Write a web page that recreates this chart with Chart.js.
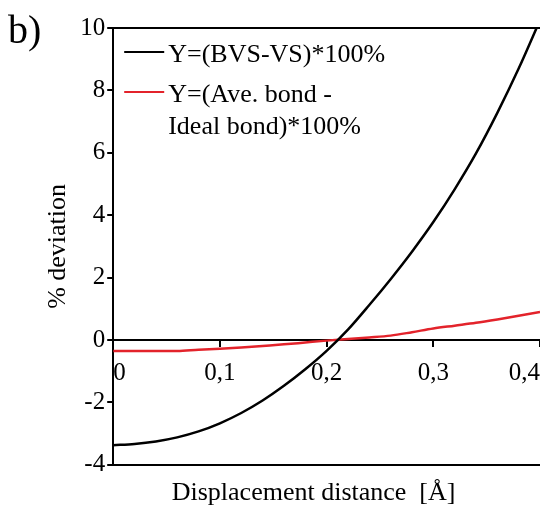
<!DOCTYPE html>
<html>
<head>
<meta charset="utf-8">
<script src="https://cdn.jsdelivr.net/npm/chart.js@4/dist/chart.umd.min.js"></script>
<style>
  html, body { margin: 0; padding: 0; background: #fff; }
  #wrap { width: 540px; height: 509px; }
</style>
</head>
<body>
<div id="wrap"><canvas id="chart"></canvas></div>
<script>
const displacement = [0, 0.02, 0.04, 0.06, 0.08, 0.1, 0.12, 0.14, 0.16, 0.18, 0.2,
  0.22, 0.24, 0.26, 0.28, 0.3, 0.32, 0.34, 0.36, 0.38, 0.4];
const bvsDeviation = [-3.37, -3.33, -3.25, -3.12, -2.93, -2.67, -2.34, -1.94, -1.47, -0.94, -0.35,
  0.33, 1.12, 1.95, 2.83, 3.78, 4.83, 5.98, 7.28, 8.7, 10.25];
const bondDeviation = [-0.35, -0.35, -0.35, -0.35, -0.31, -0.28, -0.24, -0.19, -0.14, -0.08, -0.02,
  0.03, 0.08, 0.14, 0.25, 0.37, 0.46, 0.55, 0.66, 0.78, 0.9];
const xTicks = [0, 0.1, 0.2, 0.3, 0.4];
const seriesLabels = ["Y=(BVS-VS)*100%", "Y=(Ave. bond -\nIdeal bond)*100%"];

const serif = "'Liberation Serif', 'Times New Roman', serif";
const red = "#e3232b";

// legend and panel letter drawn on top of the chart
const extras = {
  id: "extras",
  afterDraw(chart) {
    const { ctx, chartArea } = chart;
    ctx.save();
    ctx.fillStyle = "#000";
    ctx.font = "40px " + serif;
    ctx.textBaseline = "alphabetic";
    ctx.fillText("b)", 8, 43);

    ctx.font = "26px " + serif;
    let y = chartArea.top + 24;
    chart.data.datasets.forEach((ds) => {
      ctx.strokeStyle = ds.borderColor;
      ctx.lineWidth = 2;
      ctx.beginPath();
      ctx.moveTo(chartArea.left + 11, y);
      ctx.lineTo(chartArea.left + 51, y);
      ctx.stroke();
      const lines = ds.label.split("\n");
      lines.forEach((line, i) => {
        ctx.fillText(line, chartArea.left + 55, y + 10 + i * 32);
      });
      y += 40;
    });
    ctx.restore();
  },
};

new Chart(document.getElementById("chart"), {
  type: "line",
  data: {
    datasets: [
      {
        label: seriesLabels[0],
        data: displacement.map((x, i) => ({ x: x, y: bvsDeviation[i] })),
        borderColor: "#000",
        borderWidth: 2.5,
        pointRadius: 0,
        cubicInterpolationMode: "monotone",
      },
      {
        label: seriesLabels[1],
        data: displacement.map((x, i) => ({ x: x, y: bondDeviation[i] })),
        borderColor: red,
        borderWidth: 2.5,
        pointRadius: 0,
        cubicInterpolationMode: "monotone",
      },
    ],
  },
  options: {
    responsive: true,
    maintainAspectRatio: false,
    animation: false,
    devicePixelRatio: 1,
    layout: { padding: { left: 41, top: 28, right: 0, bottom: 0 } },
    plugins: { legend: { display: false }, tooltip: { enabled: false } },
    scales: {
      x: {
        type: "linear",
        position: { y: 0 },
        min: 0,
        max: 0.4,
        afterBuildTicks: (scale) => {
          scale.ticks = xTicks.map((v) => ({ value: v }));
        },
        // labels are kept inside by align "inner", so no side padding is needed
        afterFit: (scale) => {
          scale.paddingLeft = 0;
          scale.paddingRight = 0;
        },
        grid: { drawOnChartArea: false, tickLength: 6, color: "#000", lineWidth: 2 },
        border: { color: "#000", width: 2 },
        ticks: {
          align: "inner",
          autoSkip: false,
          maxRotation: 0,
          padding: 12,
          color: "#000",
          font: { family: serif, size: 25 },
          callback: (v) => (v === 0 ? "0" : v.toFixed(1).replace(".", ",")),
        },
      },
      xBottom: {
        type: "linear",
        position: "bottom",
        grid: { drawOnChartArea: false, drawTicks: false },
        border: { color: "#000", width: 2 },
        ticks: { display: false },
        title: {
          display: true,
          text: "Displacement distance  [Å]\u00a0\u00a0\u00a0\u00a0",
          color: "#000",
          font: { family: serif, size: 26 },
          padding: { top: 13, bottom: 0 },
        },
      },
      xTop: {
        type: "linear",
        position: "top",
        grid: { drawOnChartArea: false, drawTicks: false },
        border: { color: "#000", width: 2 },
        ticks: { display: false },
      },
      y: {
        min: -4,
        max: 10,
        grid: { drawOnChartArea: false, tickLength: 6, color: "#000", lineWidth: 2 },
        border: { color: "#000", width: 2 },
        ticks: {
          stepSize: 2,
          padding: 2,
          color: "#000",
          font: { family: serif, size: 25 },
        },
        title: {
          display: true,
          text: "% deviation",
          color: "#000",
          font: { family: serif, size: 26 },
          padding: { top: 2, bottom: 4 },
        },
      },
    },
  },
  plugins: [extras],
});
</script>
</body>
</html>
